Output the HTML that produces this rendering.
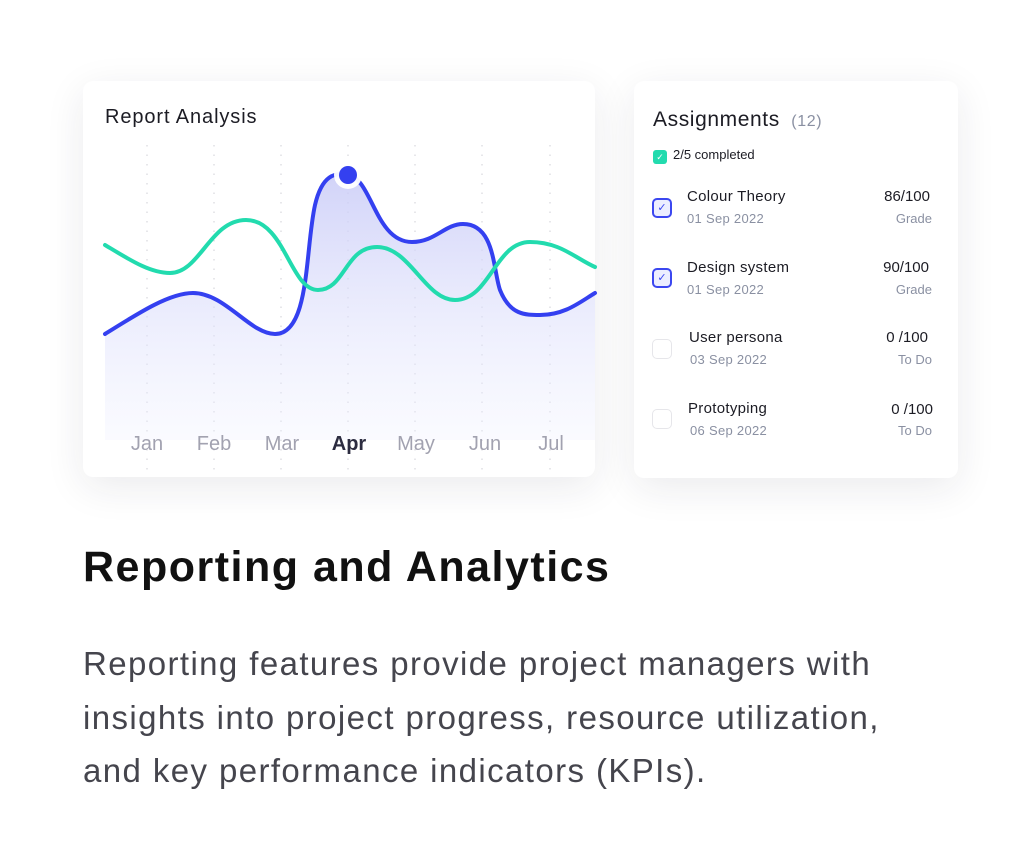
<!DOCTYPE html>
<html><head><meta charset="utf-8"><style>
html,body{margin:0;padding:0}
body{width:1024px;height:868px;background:#fff;position:relative;overflow:hidden;font-family:"Liberation Sans",sans-serif}
.card{position:absolute;background:#fff;border-radius:10px;box-shadow:0 10px 40px rgba(30,30,60,0.09)}
.t{position:absolute;white-space:nowrap}
.cb{position:absolute;left:18px;width:20px;height:20px;border-radius:5px;box-sizing:border-box}
.on{border:2px solid #3b47f0;background:#eceeff}
.off{border:1.5px solid #e6e6ea}
.name{font-size:15px;color:#1c1c24;letter-spacing:0.3px}
.date{font-size:13px;color:#8a90a2;letter-spacing:0.3px}
.sc{font-size:15px;color:#1c1c24;text-align:right}
.lb{font-size:13px;color:#8a90a2;text-align:right}
</style></head><body>
<div class="card" style="left:83px;top:81px;width:512px;height:396px"></div>
<div class="card" style="left:634px;top:81px;width:324px;height:397px"></div>
<svg style="position:absolute;left:0;top:0" width="1024" height="868">
<defs><linearGradient id="g" x1="0" y1="0" x2="0" y2="1">
<stop offset="0" stop-color="#c9cbf7" stop-opacity="0.85"/><stop offset="1" stop-color="#eef0ff" stop-opacity="0.3"/></linearGradient></defs>
<g stroke="#cfcfd6" stroke-width="1" stroke-dasharray="1.5 8">
<line x1="147" y1="145" x2="147" y2="470"/><line x1="214" y1="145" x2="214" y2="470"/><line x1="281" y1="145" x2="281" y2="470"/><line x1="348" y1="145" x2="348" y2="470"/><line x1="415" y1="145" x2="415" y2="470"/><line x1="482" y1="145" x2="482" y2="470"/><line x1="550" y1="145" x2="550" y2="470"/></g>
<path d="M105,334 C140,312 170,293 193,293 C225,293 250,334 275,334 C310,334 305,250 315,205 C322,175 335,172 348,175 C372,178 375,242 412,242 C435,242 445,224 463,224 C495,224 493,270 500,290 C510,315 525,315 540,315 C565,315 580,302 595,293 L595,440 L105,440 Z" fill="url(#g)"/>
<path d="M105,334 C140,312 170,293 193,293 C225,293 250,334 275,334 C310,334 305,250 315,205 C322,175 335,172 348,175 C372,178 375,242 412,242 C435,242 445,224 463,224 C495,224 493,270 500,290 C510,315 525,315 540,315 C565,315 580,302 595,293" fill="none" stroke="#3440f0" stroke-width="4" stroke-linecap="round"/>
<path d="M105,245 C130,260 150,273 170,273 C200,273 210,220 246,220 C285,220 290,290 318,290 C345,290 345,247 377,247 C410,247 425,300 455,300 C490,300 495,242 530,242 C560,242 575,258 595,267" fill="none" stroke="#22dbae" stroke-width="4" stroke-linecap="round"/>
<circle cx="348" cy="175" r="14" fill="#fff" opacity="0.95"/>
<circle cx="348" cy="175" r="9" fill="#3440f0"/>
<g font-family="Liberation Sans,sans-serif" font-size="20" fill="#a2a2b0" text-anchor="middle">
<text x="147" y="450">Jan</text><text x="214" y="450">Feb</text><text x="282" y="450">Mar</text><text x="349" y="450" fill="#2c2c40" font-weight="bold">Apr</text><text x="416" y="450">May</text><text x="485" y="450">Jun</text><text x="551" y="450">Jul</text></g>
</svg>
<div class="t" style="left:105px;top:106px;font-size:20px;color:#1c1c24;letter-spacing:0.9px">Report Analysis</div>
<div style="position:absolute;left:634px;top:81px;width:324px;height:397px">
<div class="t" style="left:19px;top:27px;font-size:21px;color:#1c1c24;letter-spacing:0.6px">Assignments <span style="font-size:16px;color:#8a90a2">&nbsp;(12)</span></div>
<div style="position:absolute;left:19px;top:69px;width:14px;height:14px;border-radius:3px;background:#22dbae;color:#fff;font-size:9px;line-height:14px;text-align:center">✓</div>
<div class="t" style="left:39px;top:66px;font-size:13px;color:#1c1c24">2/5 completed</div>

<div class="cb on" style="top:117px;color:#3b47f0;font-size:11px;line-height:16px;text-align:center">✓</div>
<div class="t name" style="left:53px;top:107px">Colour Theory</div>
<div class="t date" style="left:53px;top:130px">01 Sep 2022</div>
<div class="t sc" style="right:28px;top:107px">86/100</div>
<div class="t lb" style="right:26px;top:130px">Grade</div>

<div class="cb on" style="top:187px;color:#3b47f0;font-size:11px;line-height:16px;text-align:center">✓</div>
<div class="t name" style="left:53px;top:178px">Design system</div>
<div class="t date" style="left:53px;top:201px">01 Sep 2022</div>
<div class="t sc" style="right:29px;top:178px">90/100</div>
<div class="t lb" style="right:26px;top:201px">Grade</div>

<div class="cb off" style="top:258px"></div>
<div class="t name" style="left:55px;top:248px">User persona</div>
<div class="t date" style="left:56px;top:271px">03 Sep 2022</div>
<div class="t sc" style="right:30px;top:248px">0 /100</div>
<div class="t lb" style="right:26px;top:271px">To Do</div>

<div class="cb off" style="top:328px"></div>
<div class="t name" style="left:54px;top:319px">Prototyping</div>
<div class="t date" style="left:56px;top:342px">06 Sep 2022</div>
<div class="t sc" style="right:25px;top:320px">0 /100</div>
<div class="t lb" style="right:26px;top:342px">To Do</div>
</div>
<div class="t" style="left:83px;top:543px;font-size:43px;font-weight:bold;color:#111;letter-spacing:1.5px">Reporting and Analytics</div>
<div style="position:absolute;left:83px;top:637px;font-size:33px;letter-spacing:1.4px;line-height:53.5px;color:#45454d;width:940px;white-space:nowrap">Reporting features provide project managers with<br>insights into project progress, resource utilization,<br>and key performance indicators (KPIs).</div>
</body></html>
